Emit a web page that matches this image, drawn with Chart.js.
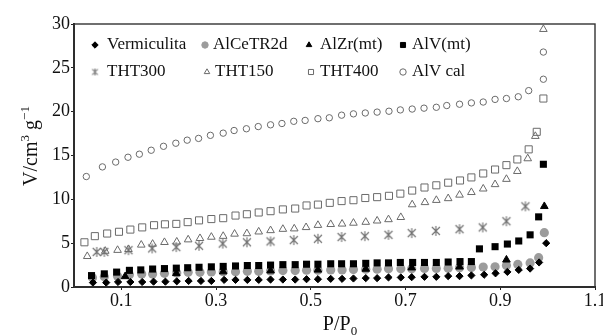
<!DOCTYPE html>
<html lang="es">
<head>
<meta charset="UTF-8">
<title>Isotermas de adsorción de N2</title>
<style>
    body {
        margin: 0;
        padding: 0;
        background-color: #fff;
    }
    .chart-box {
        width: 603px;
        height: 336px;
    }
</style>
</head>
<body>

<div class="chart-box">
    <canvas id="isoChart" width="603" height="336"></canvas>
</div>

<script src="https://cdn.jsdelivr.net/npm/chart.js"></script>
<script>
    // Relative pressure (P/P0) and adsorbed volume (cm3/g) for each sample
    const vermP = [0.040, 0.068, 0.093, 0.119, 0.144, 0.168, 0.193, 0.217, 0.242, 0.268, 0.290, 0.317, 0.341, 0.366, 0.390, 0.415, 0.441, 0.467, 0.491, 0.515, 0.542, 0.566, 0.590, 0.616, 0.640, 0.664, 0.690, 0.713, 0.740, 0.765, 0.790, 0.814, 0.839, 0.866, 0.890, 0.915, 0.939, 0.963, 0.982, 0.997];
    const vermV = [0.50, 0.50, 0.57, 0.57, 0.57, 0.61, 0.61, 0.65, 0.69, 0.69, 0.69, 0.81, 0.81, 0.81, 0.81, 0.85, 0.85, 0.85, 0.89, 0.89, 0.93, 0.93, 0.97, 1.01, 1.01, 1.09, 1.09, 1.12, 1.16, 1.16, 1.24, 1.24, 1.32, 1.40, 1.56, 1.72, 1.95, 2.10, 2.80, 5.00];

    const ceP = [0.039, 0.064, 0.092, 0.117, 0.143, 0.166, 0.191, 0.217, 0.241, 0.266, 0.290, 0.315, 0.341, 0.366, 0.390, 0.415, 0.441, 0.467, 0.491, 0.515, 0.542, 0.566, 0.590, 0.616, 0.640, 0.664, 0.690, 0.713, 0.740, 0.765, 0.790, 0.814, 0.839, 0.864, 0.889, 0.913, 0.937, 0.963, 0.981, 0.993];
    const ceV = [1.05, 1.16, 1.24, 1.40, 1.48, 1.48, 1.56, 1.60, 1.67, 1.67, 1.71, 1.75, 1.75, 1.79, 1.79, 1.83, 1.87, 1.87, 1.91, 1.91, 1.95, 1.95, 1.99, 2.03, 2.03, 2.07, 2.07, 2.07, 2.11, 2.11, 2.15, 2.19, 2.22, 2.28, 2.30, 2.45, 2.58, 2.75, 3.35, 6.20];

    const zrP = [0.108, 0.216, 0.315, 0.415, 0.515, 0.616, 0.713, 0.814, 0.913, 0.993];
    const zrV = [1.20, 1.55, 1.75, 1.85, 1.95, 2.05, 2.20, 2.30, 3.10, 9.20];

    const avmP = [0.037, 0.064, 0.090, 0.117, 0.141, 0.166, 0.191, 0.216, 0.240, 0.264, 0.290, 0.315, 0.341, 0.366, 0.390, 0.415, 0.441, 0.467, 0.491, 0.515, 0.542, 0.565, 0.590, 0.616, 0.640, 0.664, 0.689, 0.715, 0.740, 0.765, 0.790, 0.815, 0.839, 0.856, 0.889, 0.915, 0.939, 0.963, 0.981, 0.991];
    const avmV = [1.30, 1.50, 1.70, 1.90, 1.95, 2.05, 2.10, 2.15, 2.20, 2.25, 2.30, 2.35, 2.40, 2.45, 2.45, 2.50, 2.55, 2.55, 2.60, 2.60, 2.65, 2.65, 2.65, 2.70, 2.75, 2.75, 2.80, 2.80, 2.80, 2.80, 2.85, 2.90, 2.90, 4.35, 4.60, 4.90, 5.25, 5.95, 8.00, 14.00];

    const t300P = [0.048, 0.064, 0.115, 0.165, 0.216, 0.264, 0.314, 0.365, 0.415, 0.464, 0.515, 0.565, 0.614, 0.664, 0.713, 0.764, 0.814, 0.863, 0.913, 0.953];
    const t300V = [4.00, 4.00, 4.20, 4.40, 4.55, 4.70, 4.95, 5.10, 5.20, 5.35, 5.50, 5.70, 5.80, 5.95, 6.15, 6.40, 6.60, 6.80, 7.50, 9.20];

    const t150P = [0.028, 0.066, 0.092, 0.115, 0.142, 0.166, 0.191, 0.217, 0.241, 0.266, 0.290, 0.315, 0.339, 0.365, 0.390, 0.415, 0.441, 0.465, 0.490, 0.515, 0.542, 0.566, 0.590, 0.616, 0.640, 0.664, 0.690, 0.714, 0.741, 0.765, 0.790, 0.814, 0.839, 0.864, 0.889, 0.913, 0.936, 0.958, 0.974, 0.991];
    const t150V = [3.50, 4.10, 4.20, 4.30, 4.80, 4.90, 5.10, 5.15, 5.40, 5.55, 5.70, 5.80, 6.05, 6.10, 6.30, 6.45, 6.60, 6.65, 6.80, 7.05, 7.15, 7.20, 7.30, 7.40, 7.55, 7.70, 7.95, 9.40, 9.65, 9.90, 10.10, 10.50, 10.80, 11.20, 11.70, 12.30, 13.20, 14.65, 17.20, 29.40];

    const t400P = [0.022, 0.044, 0.070, 0.095, 0.119, 0.144, 0.169, 0.192, 0.216, 0.240, 0.264, 0.290, 0.315, 0.341, 0.365, 0.390, 0.415, 0.441, 0.467, 0.491, 0.515, 0.540, 0.565, 0.590, 0.615, 0.640, 0.665, 0.689, 0.714, 0.740, 0.765, 0.790, 0.815, 0.839, 0.864, 0.889, 0.913, 0.936, 0.960, 0.977, 0.991];
    const t400V = [5.10, 5.80, 6.10, 6.30, 6.55, 6.80, 7.05, 7.15, 7.20, 7.40, 7.60, 7.75, 7.85, 8.15, 8.30, 8.50, 8.65, 8.85, 8.95, 9.30, 9.40, 9.60, 9.80, 9.90, 10.15, 10.25, 10.40, 10.65, 11.00, 11.35, 11.60, 11.90, 12.15, 12.50, 12.95, 13.40, 13.90, 14.55, 15.70, 17.70, 21.50];

    const calP = [0.026, 0.060, 0.088, 0.114, 0.138, 0.163, 0.189, 0.215, 0.239, 0.263, 0.288, 0.315, 0.338, 0.364, 0.389, 0.415, 0.439, 0.464, 0.488, 0.515, 0.539, 0.565, 0.590, 0.615, 0.640, 0.665, 0.689, 0.714, 0.739, 0.765, 0.787, 0.814, 0.839, 0.864, 0.889, 0.913, 0.938, 0.960, 0.991, 0.991];
    const calV = [12.60, 13.70, 14.25, 14.80, 15.15, 15.60, 16.05, 16.40, 16.75, 16.95, 17.30, 17.55, 17.85, 18.05, 18.30, 18.50, 18.65, 18.90, 19.00, 19.20, 19.30, 19.60, 19.75, 19.85, 19.95, 20.05, 20.20, 20.30, 20.40, 20.50, 20.70, 20.85, 21.00, 21.10, 21.40, 21.50, 21.70, 22.40, 23.70, 26.80];

    const xTickValues = [0.1, 0.3, 0.5, 0.7, 0.9, 1.1];
    const yTickValues = [0, 5, 10, 15, 20, 25, 30];

    const serif = '"Liberation Serif", "Times New Roman", serif';
    const openGray = '#6a6a6a';

    // six-armed asterisk used for THT300
    function makeAsterisk(size, color) {
        const c = document.createElement('canvas');
        c.width = size;
        c.height = size;
        const g = c.getContext('2d');
        const m = size / 2;
        const r = size / 2 - 1;
        g.strokeStyle = color;
        g.lineWidth = 1.1;
        g.beginPath();
        g.moveTo(m - r * 0.8, m - r * 0.8); g.lineTo(m + r * 0.8, m + r * 0.8);
        g.moveTo(m + r * 0.8, m - r * 0.8); g.lineTo(m - r * 0.8, m + r * 0.8);
        g.moveTo(m, m - r); g.lineTo(m, m + r);
        g.stroke();
        return c;
    }
    const starBig = makeAsterisk(12, '#6f6f6f');
    const starSmall = makeAsterisk(9, '#7a7a7a');

    function pts(xs, ys) {
        return xs.map((x, i) => ({ x: x, y: ys[i] }));
    }

    const datasets = [
        { label: 'Vermiculita', data: pts(vermP, vermV), pointStyle: 'rectRot', pointRadius: 3.6,
          backgroundColor: '#000', borderColor: '#000', borderWidth: 1, order: 3 },
        { label: 'AlCeTR2d', data: pts(ceP, ceV), pointStyle: 'circle', pointRadius: 4.6,
          backgroundColor: '#9c9c9c', borderColor: '#9c9c9c', borderWidth: 0, order: 4 },
        { label: 'AlZr(mt)', data: pts(zrP, zrV), pointStyle: 'triangle', pointRadius: 4.4,
          backgroundColor: '#000', borderColor: '#000', borderWidth: 1, order: 1 },
        { label: 'AlV(mt)', data: pts(avmP, avmV), pointStyle: 'rect', pointRadius: 5,
          backgroundColor: '#000', borderColor: '#000', borderWidth: 0, order: 2 },
        { label: 'THT300', data: pts(t300P, t300V), pointStyle: starBig, pointRadius: 6,
          backgroundColor: openGray, borderColor: openGray, order: 5 },
        { label: 'THT150', data: pts(t150P, t150V), pointStyle: 'triangle', pointRadius: 4.4,
          backgroundColor: 'rgba(0,0,0,0)', borderColor: openGray, borderWidth: 1, order: 6 },
        { label: 'THT400', data: pts(t400P, t400V), pointStyle: 'rect', pointRadius: 5,
          backgroundColor: 'rgba(0,0,0,0)', borderColor: openGray, borderWidth: 1, order: 7 },
        { label: 'AlV cal', data: pts(calP, calV), pointStyle: 'circle', pointRadius: 3.2,
          backgroundColor: 'rgba(0,0,0,0)', borderColor: openGray, borderWidth: 1, order: 8 }
    ];

    // legend inside the plot, two rows of four
    const legendCols = [95, 205, 309, 403];
    const legendTextX = [107, 213, 320, 412];
    const legendRows = [45, 72];

    const overlayPlugin = {
        id: 'overlay',
        afterDraw(chart) {
            const ctx = chart.ctx;
            const a = chart.chartArea;

            // box around the plot
            ctx.save();
            ctx.strokeStyle = '#333';
            ctx.lineWidth = 1.4;
            ctx.strokeRect(a.left, a.top, a.right - a.left, a.bottom - a.top);
            ctx.restore();

            // legend
            ctx.save();
            ctx.font = '17px ' + serif;
            ctx.fillStyle = '#111';
            ctx.textBaseline = 'middle';
            chart.data.datasets.forEach((ds, i) => {
                const row = Math.floor(i / 4);
                const col = i % 4;
                const x = legendCols[col] + (row === 1 && col === 1 ? 2 : 0) + (row === 1 && col === 2 ? 2 : 0);
                const y = legendRows[row];
                ctx.fillStyle = ds.backgroundColor;
                ctx.strokeStyle = ds.borderColor;
                ctx.lineWidth = ds.borderWidth || 1;
                let style = ds.pointStyle;
                if (style === starBig) style = starSmall;
                Chart.helpers.drawPoint(ctx, { pointStyle: style, radius: ds.pointStyle === 'rect' ? 3.6 : 3.2, rotation: 0, borderWidth: ds.borderWidth || 1 }, x, y);
                ctx.fillStyle = '#111';
                ctx.fillText(ds.label, legendTextX[col] + (row === 1 && col === 1 ? 2 : 0), y);
            });
            ctx.restore();

            // axis titles
            ctx.save();
            ctx.fillStyle = '#111';
            ctx.textBaseline = 'alphabetic';
            const big = '20px ' + serif;
            const small = '13px ' + serif;

            // y title: V/cm3 g-1 with superscripts
            const yParts = [['V/cm', big, 0], ['3', small, -8], [' g', big, 0], ['\u22121', small, -8]];
            ctx.translate(30, 146);
            ctx.rotate(-Math.PI / 2);
            let w = 0;
            yParts.forEach(p => { ctx.font = p[1]; w += ctx.measureText(p[0]).width; });
            let cx = -w / 2;
            yParts.forEach(p => {
                ctx.font = p[1];
                ctx.fillText(p[0], cx, 7 + p[2]);
                cx += ctx.measureText(p[0]).width;
            });
            ctx.restore();

            // x title: P/P0 with subscript
            ctx.save();
            ctx.fillStyle = '#111';
            const xParts = [['P/P', big, 0], ['0', small, 5]];
            w = 0;
            xParts.forEach(p => { ctx.font = p[1]; w += ctx.measureText(p[0]).width; });
            cx = 340 - w / 2;
            xParts.forEach(p => {
                ctx.font = p[1];
                ctx.fillText(p[0], cx, 330 + p[2]);
                cx += ctx.measureText(p[0]).width;
            });
            ctx.restore();
        }
    };

    new Chart(document.getElementById('isoChart'), {
        type: 'scatter',
        data: { datasets: datasets },
        options: {
            responsive: false,
            animation: false,
            devicePixelRatio: 1,
            events: [],
            layout: { padding: { left: 0, right: 8, top: 24, bottom: 0 } },
            plugins: {
                legend: { display: false },
                tooltip: { enabled: false }
            },
            scales: {
                x: {
                    type: 'linear',
                    min: 0,
                    max: 1.1,
                    afterBuildTicks(scale) {
                        scale.ticks = xTickValues.map(v => ({ value: v }));
                    },
                    afterFit(scale) {
                        scale.height = 49;
                        scale.paddingLeft = 0;
                        scale.paddingRight = 0;
                    },
                    ticks: {
                        font: { family: serif, size: 18 },
                        color: '#111',
                        padding: 0,
                        maxRotation: 0,
                        callback: v => v.toFixed(1)
                    },
                    grid: { drawOnChartArea: false, drawTicks: true, tickLength: 3, color: '#222' },
                    border: { display: true, color: '#222', width: 2 }
                },
                y: {
                    type: 'linear',
                    min: 0,
                    max: 30,
                    afterBuildTicks(scale) {
                        scale.ticks = yTickValues.map(v => ({ value: v }));
                    },
                    afterFit(scale) {
                        scale.width = 74;
                        scale.paddingTop = 0;
                        scale.paddingBottom = 0;
                    },
                    ticks: {
                        font: { family: serif, size: 18 },
                        color: '#111',
                        padding: 1
                    },
                    grid: { drawOnChartArea: false, drawTicks: true, tickLength: 3, color: '#222' },
                    border: { display: true, color: '#222', width: 2 }
                }
            }
        },
        plugins: [overlayPlugin]
    });
</script>
</body>
</html>
